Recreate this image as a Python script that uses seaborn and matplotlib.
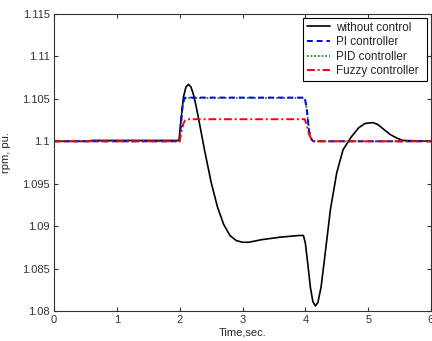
import matplotlib
matplotlib.use("Agg")
import matplotlib.pyplot as plt
import seaborn as sns

# --- data ---
t_nc = [0.0, 0.55, 0.6, 1.99, 2.02, 2.06, 2.10, 2.14, 2.18, 2.22, 2.26, 2.30, 2.40, 2.50, 2.60,
        2.70, 2.80, 2.90, 3.00, 3.10, 3.30, 3.60, 3.90, 3.97, 4.00, 4.04, 4.08, 4.12, 4.16,
        4.20, 4.25, 4.30, 4.40, 4.50, 4.60, 4.73, 4.85, 4.95, 5.07, 5.15, 5.25, 5.35, 5.45,
        5.55, 6.0]
y_nc = [1.1, 1.1, 1.1001, 1.1001, 1.1025, 1.1052, 1.1064, 1.1067, 1.1064, 1.1055, 1.1042, 1.1027,
        1.0988, 1.0952, 1.0923, 1.0902, 1.0889, 1.0883, 1.0881, 1.0881, 1.0884, 1.0887, 1.0889,
        1.0889, 1.0880, 1.0855, 1.0828, 1.0811, 1.0806, 1.0810, 1.0828, 1.0858, 1.0920, 1.0963,
        1.0990, 1.1005, 1.1016, 1.1021, 1.1022, 1.1020, 1.1014, 1.1008, 1.1004, 1.1001, 1.1]

t_pi = [0.0, 2.0, 2.02, 2.05, 2.08, 2.10, 3.99, 4.02, 4.06, 4.10, 4.13, 6.0]
y_pi = [1.1, 1.1, 1.1020, 1.1045, 1.1051, 1.10515, 1.10515, 1.1040, 1.1012, 1.1002, 1.1, 1.1]

t_pid = [0.0, 2.0, 2.02, 2.05, 2.08, 2.10, 3.99, 4.02, 4.06, 4.10, 4.13, 6.0]
y_pid = [1.1, 1.1, 1.1018, 1.1043, 1.1050, 1.1051, 1.1051, 1.1039, 1.1012, 1.1002, 1.1, 1.1]

t_fz = [0.0, 2.0, 2.03, 2.06, 2.09, 2.12, 3.99, 4.02, 4.06, 4.10, 4.13, 6.0]
y_fz = [1.1, 1.1, 1.1012, 1.1021, 1.1025, 1.1026, 1.1026, 1.1020, 1.1008, 1.1002, 1.1, 1.1]

x_ticks = [0, 1, 2, 3, 4, 5, 6]
y_ticks = [1.08, 1.085, 1.09, 1.095, 1.1, 1.105, 1.11, 1.115]
y_tick_labels = ["1.08", "1.085", "1.09", "1.095", "1.1", "1.105", "1.11", "1.115"]

sns.set_style("white")
plt.rcParams["font.family"] = ["Liberation Sans", "DejaVu Sans"]
plt.rcParams["font.size"] = 8

fig = plt.figure(figsize=(4.32, 3.41), dpi=100)
ax = fig.add_axes([54 / 432, 30 / 341, 377 / 432, 297 / 341])

sns.lineplot(x=t_nc, y=y_nc, ax=ax, color="black", linewidth=1.2, label="without control",
             estimator=None, sort=False)
sns.lineplot(x=t_pid, y=y_pid, ax=ax, color="#008000", linewidth=1.2, linestyle=(0, (1, 1.2)),
             label="PID controller", estimator=None, sort=False)
sns.lineplot(x=t_pi, y=y_pi, ax=ax, color="blue", linewidth=1.4, linestyle=(0, (3, 2)),
             label="PI controller", estimator=None, sort=False)
sns.lineplot(x=t_fz, y=y_fz, ax=ax, color="red", linewidth=1.4, linestyle=(0, (4, 1.5, 1, 1.5)),
             label="Fuzzy controller", estimator=None, sort=False)

ax.set_xlim(0, 6)
ax.set_ylim(1.08, 1.115)
ax.set_xticks(x_ticks)
ax.set_xticklabels([str(v) for v in x_ticks])
ax.set_yticks(y_ticks)
ax.set_yticklabels(y_tick_labels)
ax.tick_params(direction="in", length=3, width=0.8, top=True, right=True,
               bottom=True, left=True, labelsize=8, pad=3, colors="#333333")
for s in ax.spines.values():
    s.set_visible(True)
    s.set_color("#333333")
    s.set_linewidth(0.8)

ax.set_xlabel("Time,sec.", fontsize=8, labelpad=2)
ax.set_ylabel("rpm, pu.", fontsize=8)
ax.yaxis.set_label_coords(-0.115, 0.532)

handles, labels = ax.get_legend_handles_labels()
order = [labels.index(n) for n in ["without control", "PI controller", "PID controller", "Fuzzy controller"]]
leg = ax.legend([handles[i] for i in order], [labels[i] for i in order],
                loc="upper left", bbox_to_anchor=(0.6605, 0.0, 0.3289, 0.9865), mode="expand",
                fontsize=8.4, frameon=True,
                fancybox=False, edgecolor="black", framealpha=1, borderpad=0.3,
                labelspacing=0.22, handlelength=2.0, handletextpad=0.5, borderaxespad=0.0)
leg.get_frame().set_linewidth(0.8)

fig.savefig("out.png", dpi=100)
